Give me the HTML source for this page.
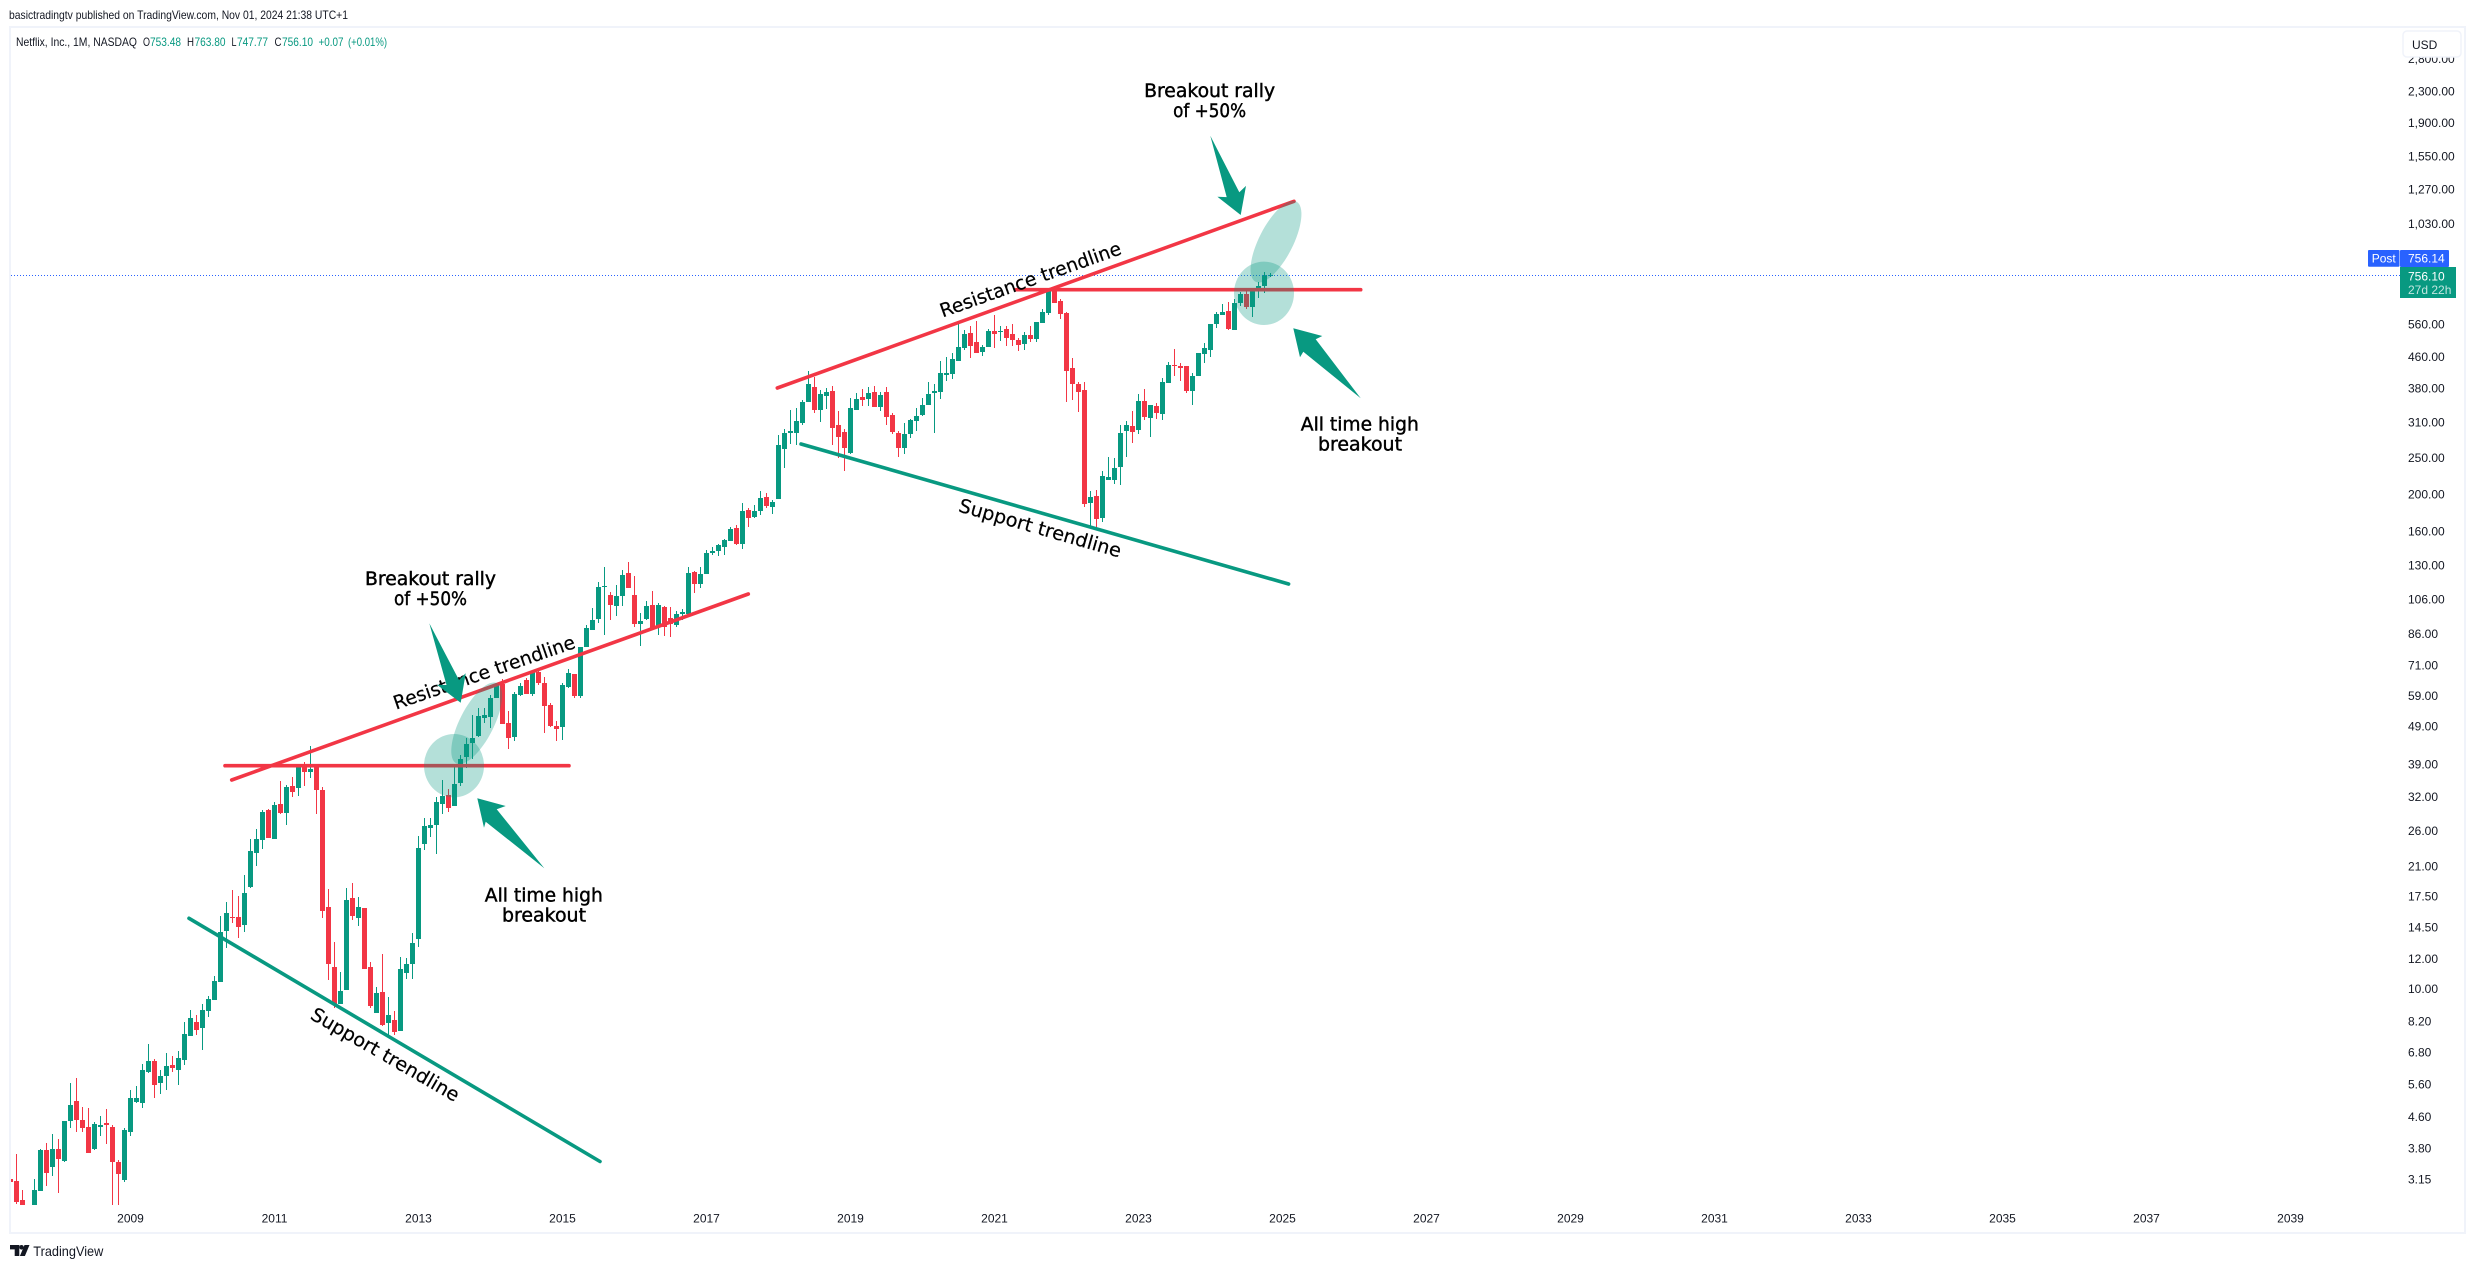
<!DOCTYPE html>
<html lang="en">
<head>
<meta charset="utf-8">
<title>Netflix, Inc., 1M, NASDAQ</title>
<style>
html,body{margin:0;padding:0;background:#fff;}
svg{display:block;font-family:"Liberation Sans",sans-serif;}
.tick{font-size:12px;fill:#131722;}
.note{font-family:"DejaVu Sans",sans-serif;font-size:19px;fill:#000;stroke:#000;stroke-width:.45px;text-anchor:middle;}
.rot{font-family:"DejaVu Sans",sans-serif;font-size:19px;fill:#000;text-anchor:middle;stroke:#000;stroke-width:.2px;}
</style>
</head>
<body>
<svg id="chart" xmlns="http://www.w3.org/2000/svg" width="2475" height="1268" viewBox="0 0 2475 1268">
  <defs><clipPath id="pane"><rect x="11" y="28" width="2453" height="1177"/></clipPath></defs>
  <rect width="2475" height="1268" fill="#fff"/>
  <text x="9" y="19" font-size="12" fill="#131722" textLength="339" lengthAdjust="spacingAndGlyphs">basictradingtv published on TradingView.com, Nov 01, 2024 21:38 UTC+1</text>
  <rect x="10" y="27" width="2455" height="1206" fill="none" stroke="#F0F3FA" stroke-width="2"/>

  <g font-size="12">
    <text x="16" y="46" fill="#131722" textLength="121" lengthAdjust="spacingAndGlyphs">Netflix, Inc., 1M, NASDAQ</text>
    <text x="143" y="46" fill="#131722" textLength="7" lengthAdjust="spacingAndGlyphs">O</text>
    <text x="150" y="46" fill="#089981" textLength="31" lengthAdjust="spacingAndGlyphs">753.48</text>
    <text x="187" y="46" fill="#131722" textLength="7" lengthAdjust="spacingAndGlyphs">H</text>
    <text x="194.5" y="46" fill="#089981" textLength="31" lengthAdjust="spacingAndGlyphs">763.80</text>
    <text x="231.5" y="46" fill="#131722" textLength="5" lengthAdjust="spacingAndGlyphs">L</text>
    <text x="237" y="46" fill="#089981" textLength="31" lengthAdjust="spacingAndGlyphs">747.77</text>
    <text x="274.5" y="46" fill="#131722" textLength="7" lengthAdjust="spacingAndGlyphs">C</text>
    <text x="282" y="46" fill="#089981" textLength="31" lengthAdjust="spacingAndGlyphs">756.10</text>
    <text x="318.5" y="46" fill="#089981" textLength="25" lengthAdjust="spacingAndGlyphs">+0.07</text>
    <text x="348" y="46" fill="#089981" textLength="39" lengthAdjust="spacingAndGlyphs">(+0.01%)</text>
  </g>

  <g id="candles" clip-path="url(#pane)" shape-rendering="crispEdges"></g>
  <g id="yaxis"></g>
  <g id="xaxis"></g>

  <line x1="11" y1="275.5" x2="2400" y2="275.5" stroke="#2962FF" stroke-width="1" stroke-dasharray="1 2"/>

  <g stroke-linecap="round" fill="none" stroke-width="3.6">
    <line x1="189" y1="918.3" x2="600" y2="1161.5" stroke="#089981"/>
    <line x1="231.7" y1="780" x2="748.3" y2="594" stroke="#F23645"/>
    <line x1="225" y1="765.7" x2="569" y2="765.7" stroke="#F23645"/>
    <line x1="801" y1="444" x2="1288.6" y2="584" stroke="#089981"/>
    <line x1="777.3" y1="388" x2="1294" y2="201.3" stroke="#F23645"/>
    <line x1="1016" y1="289.7" x2="1360.7" y2="289.7" stroke="#F23645"/>
  </g>

  <g>
    <text class="rot" transform="translate(385 1055) rotate(30)" y="6" textLength="168" lengthAdjust="spacingAndGlyphs">Support trendline</text>
    <text class="rot" transform="translate(484.3 673) rotate(-19)" y="6" textLength="191" lengthAdjust="spacingAndGlyphs">Resistance trendline</text>
    <text class="rot" transform="translate(1030.6 280) rotate(-19.5)" y="6" textLength="191" lengthAdjust="spacingAndGlyphs">Resistance trendline</text>
    <text class="rot" transform="translate(1040 528.6) rotate(16)" y="6" textLength="168" lengthAdjust="spacingAndGlyphs">Support trendline</text>
  </g>

  <g fill="#089981" fill-opacity=".3">
    <ellipse cx="454" cy="765.7" rx="30" ry="31.7"/>
    <ellipse cx="476.7" cy="723.3" rx="17" ry="45" transform="rotate(27 476.7 723.3)"/>
    <ellipse cx="1264" cy="293.3" rx="30" ry="31.7"/>
    <ellipse cx="1276" cy="241.7" rx="17" ry="45" transform="rotate(27 1276 241.7)"/>
  </g>

  <g fill="#089981">
    <polygon points="460.7,702.7 465.7,673.3 459,680 429.3,623.3 446.5,685 437,684.7"/>
    <polygon points="477.3,798.3 505.7,806 496.7,809.3 544.3,868.3 485.7,821.7 484,827.7"/>
    <polygon points="1240.7,215 1246,185.9 1239.3,192.3 1210.3,135.7 1226.7,197.1 1217.4,196.7"/>
    <polygon points="1293.3,328.3 1322.3,336 1315.7,339.3 1360.7,398.3 1303.3,351.7 1300,357.3"/>
  </g>

  <g>
    <text class="note" x="430.5" y="585" textLength="131" lengthAdjust="spacingAndGlyphs">Breakout rally</text>
    <text class="note" x="430.5" y="605" textLength="73" lengthAdjust="spacingAndGlyphs">of +50%</text>
    <text class="note" x="543.8" y="901.7" textLength="118" lengthAdjust="spacingAndGlyphs">All time high</text>
    <text class="note" x="544" y="921.7" textLength="84" lengthAdjust="spacingAndGlyphs">breakout</text>
    <text class="note" x="1209.6" y="97" textLength="131" lengthAdjust="spacingAndGlyphs">Breakout rally</text>
    <text class="note" x="1209.6" y="117" textLength="73" lengthAdjust="spacingAndGlyphs">of +50%</text>
    <text class="note" x="1359.8" y="430.7" textLength="118" lengthAdjust="spacingAndGlyphs">All time high</text>
    <text class="note" x="1360" y="450.7" textLength="84" lengthAdjust="spacingAndGlyphs">breakout</text>
  </g>

  <g>
    <rect x="2368" y="250" width="31.5" height="16.7" rx="1" fill="#2962FF"/>
    <text x="2383.7" y="262.7" font-size="12" fill="#fff" text-anchor="middle">Post</text>
    <rect x="2400" y="250" width="49" height="17" rx="1" fill="#2962FF"/>
    <text x="2408" y="262.7" font-size="12" fill="#fff">756.14</text>
    <rect x="2400" y="267" width="56" height="31" fill="#089981"/>
    <text x="2408" y="280.5" font-size="12" fill="#fff">756.10</text>
    <text x="2408" y="294" font-size="12" fill="#fff" fill-opacity=".75">27d 22h</text>
  </g>

  <g>
    <rect x="2403" y="31" width="58" height="26" rx="4" fill="#fff" stroke="#F0F3FA" stroke-width="1.5"/>
    <text x="2412" y="49" font-size="12" fill="#131722">USD</text>
  </g>

  <g>
    <path d="M10 1245h9.3v11h-4.6v-6.6H10z" fill="#131722"/>
    <circle cx="21.5" cy="1247.3" r="2.3" fill="#131722"/>
    <path d="M24.5 1245h5l-4.6 11h-5z" fill="#131722"/>
    <text x="33.3" y="1256" font-size="14" fill="#131722" textLength="70" lengthAdjust="spacingAndGlyphs">TradingView</text>
  </g>
</svg>

<script>
// Monthly NFLX candles, May 2007 to Nov 2024.
var firstYear = 2007;
var firstMonth = 5;
var opens = [
3.15,3.12,2.78,2.45,2.55,2.94,3.76,3.39,3.78,3.52,
4.5,5.07,4.51,4.33,3.78,4.33,4.43,4.33,3.5,3.14,
4.19,5.04,5.02,6.03,6.46,5.66,5.9,6.3,6.11,6.5,
7.5,8.18,7.88,8.74,9.34,10.4,14.2,15.5,15.5,14.75,
18.5,22.8,24.6,29.5,24.8,30.6,29.1,34.3,33.7,38.3,
37.2,38.3,33.3,16.4,11.4,9.12,9.93,17.3,15.4,16.3,
11.4,8.64,9.8,8.13,8.28,7.74,11,11.6,13.5,24.1,
26.5,27,30.6,32.3,30.3,34.9,40.7,44.5,46.4,51.7,
51.9,58.2,63.5,50,45.9,59.3,65,59.7,68.2,63.8,
56,49.1,48.9,62.2,67.4,59,79.3,87.9,94,113.9,
108.7,101.7,108,124.2,108.7,91.1,94,102.3,89.4,101.1,
94.6,90.5,96.9,96.9,125,116.2,123.4,140.2,142,145.4,
150.8,163,148,182,174.3,181,197,185.6,194.5,264,
290,290,309,351,383,334,363,375,305,293,
257,334,361,357,372,340,372,324,290,265,
288,312,324,344,370,372,413,415,449,486,
531,504,475,490,539,536,546,528,510,499,
525,513,566,601,695,646,602,432,391,377,
190,198,174,219,218,236,294,303,296,353,
318,342,326,393,438,436,436,375,410,469,
480,563,594,609,542,640,675,625,691,708,753.48];
var highs = [
3.33,3.68,2.96,2.6,3.15,3.78,3.92,4.15,4.02,4.48,
5.64,5.81,4.88,4.85,4.45,4.62,4.82,4.39,3.54,4.3,
5.42,5.55,6.33,7.15,6.53,6.11,6.78,6.66,6.85,8.18,
8.79,8.53,9.15,9.55,10.8,15.6,16.95,18.2,17.6,20,
24.8,26.4,29.5,29.7,31,35.2,34.5,36.2,38.5,39.5,
43.6,38.3,33.9,18.3,13.3,11.1,18.4,19,17.5,16.3,
11.8,10.1,12.35,9.5,8.74,12.1,12.05,14,25.2,28.1,
28.1,31.9,35.4,33.5,38.5,41.2,45.7,52.6,54.9,54.9,
59.4,63.7,65.3,53.9,60.3,64,66,69,68.7,66.4,
56.4,50.8,63.7,69.3,67.4,79.2,90.5,100.3,117.6,128.8,
110.6,115.4,126.5,132.8,121.9,97.5,104.9,111.3,103.6,101.7,
101.1,98.7,99.9,128.8,125.7,128.8,142.8,145.4,148,152.6,
164,166,190.6,184.2,187.7,204.5,202,193.4,287,298,
334,338,355,423,409,377,382,386,332,298,
359,370,379,384,386,372,384,328,294,309,
316,338,359,395,390,449,460,472,573,542,
556,573,496,546,594,556,556,563,516,536,
556,569,617,691,695,654,606,457,395,395,
205,206,231,251,250,305,312,332,368,379,
344,349,405,446,483,443,436,418,472,501,
563,606,636,642,654,683,695,699,725,772,763.8];
var lows = [
3.03,2.71,2.48,2.35,2.5,2.93,3.03,3.21,2.91,3.5,
4.3,4.21,4.21,3.7,3.76,4.1,3.9,2.6,2.6,3.11,
4.1,5,4.86,6,5.16,5.3,5.42,6.03,5.58,6.3,
7.5,7.55,6.9,8.43,9.34,10.4,12.8,14.9,13.6,14.1,
18.4,21,23.3,24.9,24.8,28.8,27,31.9,32.1,34.2,
35.8,28.9,15.4,10.55,8.9,9.12,9.93,15.2,14.65,11.3,
8.9,8.64,8,7.5,7.55,7.74,10.6,10.6,12.9,23.2,
25.1,22.7,28.9,29.3,30.3,34.3,38.1,40.2,46,50.2,
48.5,58.2,49.8,42.8,44.9,59,59.7,59,63,47.2,
48.8,44.9,45.1,61.8,58.4,58.4,79.3,87.9,91.7,85.3,
93.4,95.7,101.7,113.4,89.9,80,93.4,88.9,85.3,84.8,
84.3,89.9,93.4,96.9,110,113.4,123.4,138.6,137.8,138.6,
150.8,147,143.7,164,173.3,176.5,184.2,177.8,194.5,235,
272,270,305,351,328,311,336,270,250,231,
256,334,342,342,340,332,305,288,251,256,
281,294,322,344,290,357,398,402,449,480,
457,472,462,490,486,507,493,493,477,480,
504,504,566,594,640,580,351,355,330,186,
164,164,169,218,213,212,251,273,289,314,
284,316,314,393,410,398,370,344,410,443,
460,549,594,542,542,628,615,586,658,679,747.77];
var closes = [
3.11,2.75,2.55,2.55,2.95,3.76,3.28,3.78,3.56,4.48,
4.95,4.51,4.31,3.7,4.4,4.38,4.38,3.5,3.26,4.25,
5.15,5.16,6.1,6.46,5.6,5.9,6.27,6.2,6.58,7.6,
8.38,7.79,8.82,9.4,10.5,14.1,15.8,15.4,14.55,17.85,
23,24.8,29.3,24.9,30.4,29.1,33.9,32.9,38.5,37.2,
37.8,33.3,16,11.6,9.12,9.87,17.1,15.6,16.4,11.3,
9,9.75,8.03,8.53,7.7,11.27,11.6,13.2,23.5,26.8,
27,31,32.1,29.9,34.7,40.4,44,45.8,52.2,52.6,
58.4,63.5,49.8,45.7,59.9,62.6,59.7,68.5,63.8,55.5,
49.1,48.3,63,68,59,79.2,88.9,93.4,113.9,114.7,
102.3,108,122.7,113.4,91.1,92.8,101.7,88.9,102.3,89.9,
91.1,96.9,98.1,124.2,116.2,123.4,140.2,142,147,151.7,
162.2,148,181,173.3,181,195.8,186.7,191,270,290,
294,312,351,391,334,368,372,300,283,265,
338,357,355,370,340,366,320,293,265,288,
314,322,344,368,375,418,418,455,490,528,
493,472,490,539,528,539,516,510,496,525,
513,569,606,691,640,597,423,391,372,189,
197,173,224,223,235,290,305,293,353,320,
344,328,395,438,436,431,375,410,472,486,
563,599,604,546,640,675,625,699,708,755,756.1];
var priceTicks = [2800,2300,1900,1550,1270,1030,560,460,380,310,250,200,160,130,106,86,71,59,49,39,32,26,21,17.5,14.5,12,10,8.2,6.8,5.6,4.6,3.8,3.15];
var yearTicks = [2009,2011,2013,2015,2017,2019,2021,2023,2025,2027,2029,2031,2033,2035,2037,2039];

var SVG_NS = 'http://www.w3.org/2000/svg';
var UP = '#089981';
var DOWN = '#F23645';

// Time axis: months since Jan 2009 map to 6 px per bar.
function xForMonths(months) { return 130.5 + 6 * months; }
function xForIndex(i) { return xForMonths((firstYear - 2009) * 12 + (firstMonth - 1) + i); }
function xForYear(year) { return xForMonths((year - 2009) * 12); }
// Price axis: logarithmic scale.
function yForPrice(price) { return 324.7 + 165 * Math.log(560 / price); }

function formatPrice(p) {
  var s = p.toFixed(2);
  if (p >= 1000) { s = s.charAt(0) + ',' + s.slice(1); }
  return s;
}

var candleLayer = document.getElementById('candles');
for (var i = 0; i < closes.length; i++) {
  var cx = xForIndex(i);
  var color = closes[i] >= opens[i] ? UP : DOWN;
  var group = document.createElementNS(SVG_NS, 'g');
  
  

  var yHigh = Math.round(yForPrice(highs[i]));
  var yLow = Math.round(yForPrice(lows[i]));
  var wick = document.createElementNS(SVG_NS, 'rect');
  
  
  wick.setAttribute('x', cx - 0.5);
  wick.setAttribute('y', yHigh);
  wick.setAttribute('width', 1);
  wick.setAttribute('height', Math.max(1, yLow - yHigh));
  wick.setAttribute('fill', color);
  group.appendChild(wick);

  var yTop = Math.round(yForPrice(Math.max(opens[i], closes[i])));
  var yBottom = Math.round(yForPrice(Math.min(opens[i], closes[i])));
  var body = document.createElementNS(SVG_NS, 'rect');
  
  
  body.setAttribute('x', cx - 2.5);
  body.setAttribute('y', yTop);
  body.setAttribute('width', 5);
  body.setAttribute('height', Math.max(1, yBottom - yTop));
  body.setAttribute('fill', color);
  group.appendChild(body);

  candleLayer.appendChild(group);
}

var yAxis = document.getElementById('yaxis');
priceTicks.forEach(function (price) {
  var label = document.createElementNS(SVG_NS, 'text');
  
  
  label.setAttribute('class', 'tick');
  label.setAttribute('x', 2408);
  label.setAttribute('y', yForPrice(price) + 4);
  label.textContent = formatPrice(price);
  yAxis.appendChild(label);
});

var xAxis = document.getElementById('xaxis');
yearTicks.forEach(function (year) {
  var label = document.createElementNS(SVG_NS, 'text');
  
  
  label.setAttribute('class', 'tick');
  label.setAttribute('x', xForYear(year));
  label.setAttribute('y', 1222.5);
  label.setAttribute('text-anchor', 'middle');
  label.textContent = String(year);
  xAxis.appendChild(label);
});
</script>
</body>
</html>
